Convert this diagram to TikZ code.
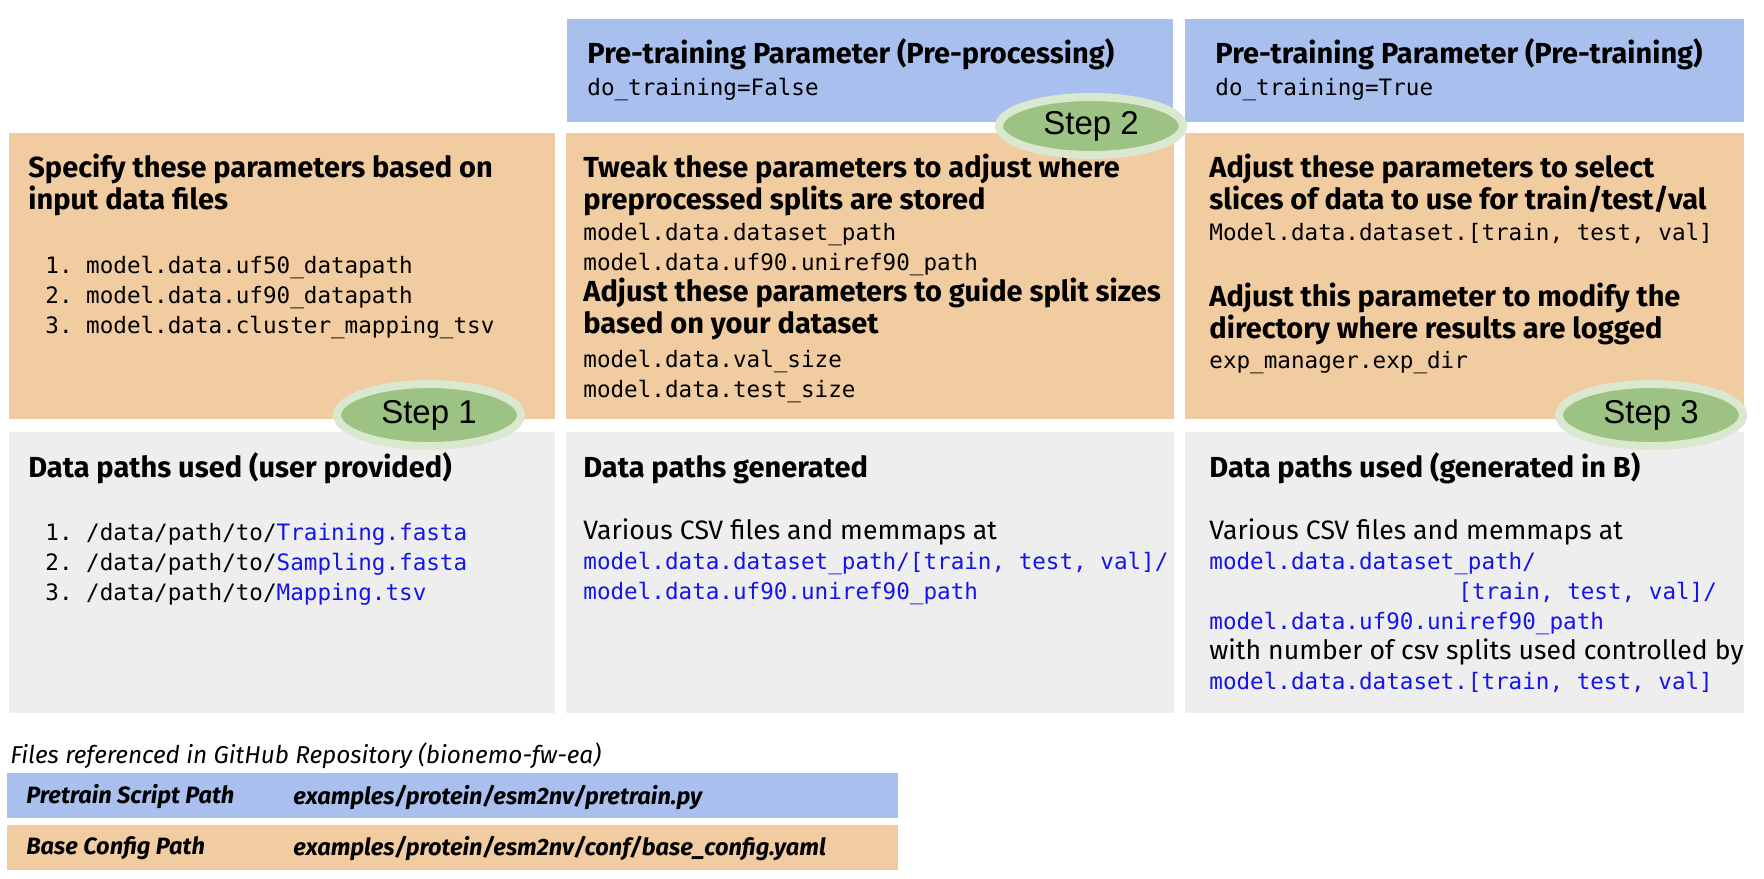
\documentclass[tikz,border=0pt]{standalone}
\usepackage{fontspec}
\setmainfont{Fira Sans}
\setmonofont{DejaVu Sans Mono}
\newfontfamily\stepfamily{Liberation Sans}
\usetikzlibrary{shapes.geometric}
\definecolor{pblue}{RGB}{169,192,238}
\definecolor{porange}{RGB}{241,204,160}
\definecolor{pgray}{RGB}{238,238,238}
\definecolor{pgreen}{RGB}{157,195,132}
\definecolor{pgreenrim}{RGB}{218,232,208}
\definecolor{plink}{RGB}{20,20,235}
\newcommand\codefont{\fontsize{11.3}{15}\selectfont\ttfamily}
\newcommand\fpath[1]{\textcolor{plink}{#1}}

\begin{document}
\begin{tikzpicture}[x=0.5pt,y=-0.5pt,
  hdr/.style={anchor=base west,inner sep=0pt,align=left,font=\fontsize{14.5}{16}\selectfont\bfseries},
  code/.style={anchor=base west,inner sep=0pt,align=left,font=\codefont},
  note/.style={anchor=base west,inner sep=0pt,align=left,font=\fontsize{13.3}{15}\selectfont},
  stepmark/.style={ellipse,fill=pgreen,draw=pgreenrim,line width=4pt,minimum width=92pt,minimum height=31pt,inner sep=0pt,font=\stepfamily\fontsize{16.5}{18}\selectfont},
  filerow/.style={anchor=west,inner sep=0pt,font=\fontsize{11.8}{13}\selectfont\bfseries\itshape}]
  \useasboundingbox (0,0) rectangle (1764,878);
  % Panels
  \fill[pblue] (567,19) rectangle (1173,122);
  \fill[pblue] (1185,19) rectangle (1744,122);
  \fill[porange] (9,133) rectangle (555,419);
  \fill[porange] (566,133) rectangle (1174,419);
  \fill[porange] (1185,133) rectangle (1744,419);
  \fill[pgray] (9,432) rectangle (555,713);
  \fill[pgray] (566,432) rectangle (1174,713);
  \fill[pgray] (1185,432) rectangle (1744,713);
  % Pre-training parameters (nodes sit on their last baseline)
  \node[hdr] (prephdr) at (587,63) {Pre-training Parameter (Pre-processing)};
  \node[code] (prepflag) at (587,95) {do\_training=False};
  \node[hdr] (trainhdr) at (1215,63) {Pre-training Parameter (Pre-training)};
  \node[code] (trainflag) at (1215,95) {do\_training=True};
  % Parameters to set
  \node[hdr] (inhdr) at (28,209) {Specify these parameters based on\\input data files};
  \node[code] (inlist) at (45,333) {1. model.data.uf50\_datapath\\2. model.data.uf90\_datapath\\3. model.data.cluster\_mapping\_tsv};
  \node[hdr] (splithdr) at (583,209) {Tweak these parameters to adjust where\\preprocessed splits are stored};
  \node[code] (splitlist) at (583,270) {model.data.dataset\_path\\model.data.uf90.uniref90\_path};
  \node[hdr] (sizehdr) at (583,333) {Adjust these parameters to guide split sizes\\based on your dataset};
  \node[code] (sizelist) at (583,397) {model.data.val\_size\\model.data.test\_size};
  \node[hdr] (slicehdr) at (1209,209) {Adjust these parameters to select\\slices of data to use for train/test/val};
  \node[code] (slicelist) at (1209,240) {Model.data.dataset.[train, test, val]};
  \node[hdr] (loghdr) at (1209,338) {Adjust this parameter to modify the\\directory where results are logged};
  \node[code] (loglist) at (1209,368) {exp\_manager.exp\_dir};
  % Data paths
  \node[hdr] (userhdr) at (28,477) {Data paths used (user provided)};
  \node[code] (userlist) at (45,600) {1. /data/path/to/\fpath{Training.fasta}\\2. /data/path/to/\fpath{Sampling.fasta}\\3. /data/path/to/\fpath{Mapping.tsv}};
  \node[hdr] (genhdr) at (583,477) {Data paths generated};
  \node[note] (gentext) at (583,599) {Various CSV files and memmaps at\\{\codefont\fpath{model.data.dataset\_path/[train, test, val]/}}\\{\codefont\fpath{model.data.uf90.uniref90\_path}}};
  \node[hdr] (usedhdr) at (1209,477) {Data paths used (generated in B)};
  \node[note] (usedtext) at (1209,689) {Various CSV files and memmaps at\\{\codefont\fpath{model.data.dataset\_path/}}\\\hspace*{124.5pt}{\codefont\fpath{[train, test, val]/}}\\{\codefont\fpath{model.data.uf90.uniref90\_path}}\\with number of csv splits used controlled by\\{\codefont\fpath{model.data.dataset.[train, test, val]}}};
  % Steps
  \node[stepmark] (step1) at (429,415) {Step 1};
  \node[stepmark,minimum height=29pt] (step2) at (1091,126) {Step 2};
  \node[stepmark] (step3) at (1651,415) {Step 3};
  % Repository files
  \node[anchor=base west,inner sep=0pt,font=\fontsize{12.2}{14}\selectfont\itshape] (repo) at (10,763) {Files referenced in GitHub Repository (bionemo-fw-ea)};
  \fill[pblue] (7,773) rectangle (898,818);
  \fill[porange] (7,825) rectangle (898,870);
  \node[filerow] (scriptlbl) at (26,797) {Pretrain Script Path};
  \node[filerow] (scriptpath) at (293,797) {examples/protein/esm2nv/pretrain.py};
  \node[filerow] (conflbl) at (26,848) {Base Config Path};
  \node[filerow] (confpath) at (293,848) {examples/protein/esm2nv/conf/base\_config.yaml};
\end{tikzpicture}
\end{document}
